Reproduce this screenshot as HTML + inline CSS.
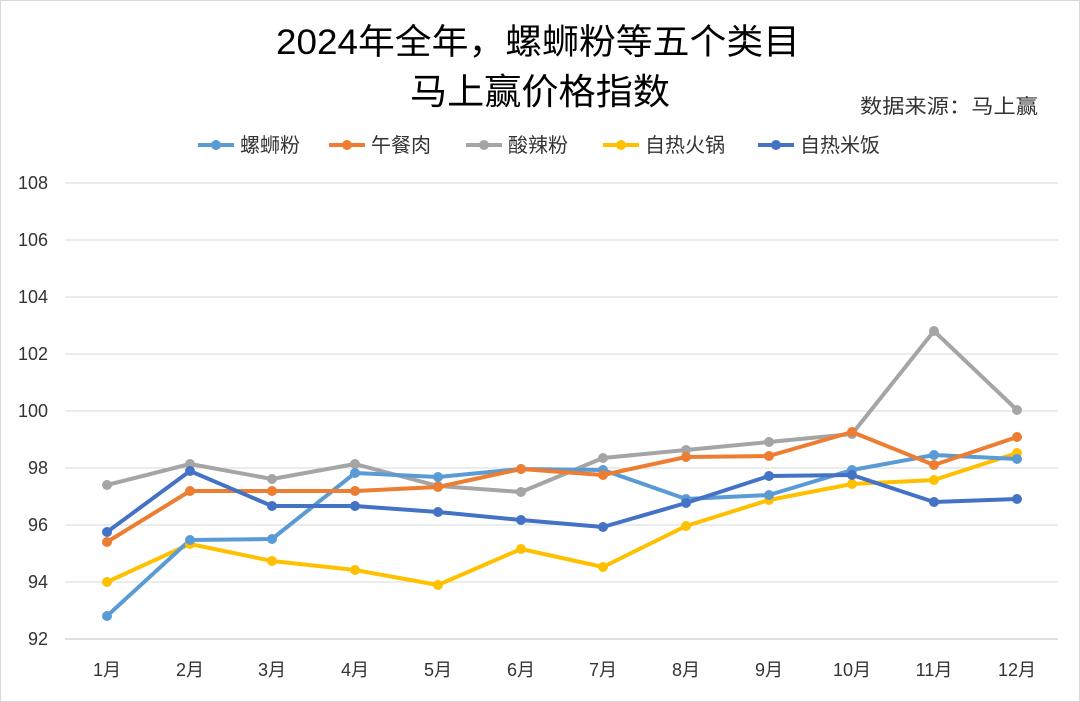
<!DOCTYPE html>
<html><head><meta charset="utf-8"><style>
html,body{margin:0;padding:0;background:#fff}
svg{display:block}
text{font-family:"Liberation Sans","Noto Sans CJK SC",sans-serif}
</style></head><body>
<svg width="1080" height="702" viewBox="0 0 1080 702" xmlns="http://www.w3.org/2000/svg">
<rect x="0.5" y="0.5" width="1079" height="701" fill="#fff" stroke="#d9d9d9"/>
<text x="276" y="54" font-size="35" fill="#000" textLength="524" lengthAdjust="spacingAndGlyphs">2024年全年，螺蛳粉等五个类目</text>
<text x="410" y="104" font-size="36" fill="#000" textLength="260" lengthAdjust="spacingAndGlyphs">马上赢价格指数</text>
<text x="1038" y="113" text-anchor="end" font-size="20" fill="#333" textLength="178" lengthAdjust="spacingAndGlyphs">数据来源：马上赢</text>
<g font-size="20" fill="#333">
<line x1="198" y1="145" x2="234" y2="145" stroke="#5B9BD5" stroke-width="4"/><circle cx="216" cy="145" r="5" fill="#5B9BD5"/><text x="240" y="152">螺蛳粉</text>
<line x1="329" y1="145" x2="365" y2="145" stroke="#ED7D31" stroke-width="4"/><circle cx="347" cy="145" r="5" fill="#ED7D31"/><text x="371" y="152">午餐肉</text>
<line x1="466" y1="145" x2="502" y2="145" stroke="#A5A5A5" stroke-width="4"/><circle cx="484" cy="145" r="5" fill="#A5A5A5"/><text x="508" y="152">酸辣粉</text>
<line x1="603" y1="145" x2="639" y2="145" stroke="#FFC000" stroke-width="4"/><circle cx="621" cy="145" r="5" fill="#FFC000"/><text x="645" y="152">自热火锅</text>
<line x1="758" y1="145" x2="794" y2="145" stroke="#4472C4" stroke-width="4"/><circle cx="776" cy="145" r="5" fill="#4472C4"/><text x="800" y="152">自热米饭</text>
</g>
<g stroke="#d9d9d9" stroke-width="1">
<line x1="65" y1="183" x2="1058" y2="183"/><line x1="65" y1="240" x2="1058" y2="240"/><line x1="65" y1="297" x2="1058" y2="297"/><line x1="65" y1="354" x2="1058" y2="354"/><line x1="65" y1="411" x2="1058" y2="411"/><line x1="65" y1="468" x2="1058" y2="468"/><line x1="65" y1="525" x2="1058" y2="525"/><line x1="65" y1="582" x2="1058" y2="582"/><line x1="65" y1="639" x2="1058" y2="639" stroke="#bfbfbf"/>
</g>
<g font-size="18" fill="#333" text-anchor="end">
<text x="48" y="189">108</text><text x="48" y="246">106</text><text x="48" y="303">104</text><text x="48" y="360">102</text><text x="48" y="417">100</text><text x="48" y="474">98</text><text x="48" y="531">96</text><text x="48" y="588">94</text><text x="48" y="645">92</text>
</g>
<g font-size="18" fill="#333" text-anchor="middle">
<text x="107" y="676">1月</text><text x="190" y="676">2月</text><text x="272" y="676">3月</text><text x="355" y="676">4月</text><text x="438" y="676">5月</text><text x="521" y="676">6月</text><text x="603" y="676">7月</text><text x="686" y="676">8月</text><text x="769" y="676">9月</text><text x="852" y="676">10月</text><text x="934" y="676">11月</text><text x="1017" y="676">12月</text>
</g>
<g fill="none" stroke-width="4" stroke-linejoin="round">
<polyline stroke="#A5A5A5" points="107,485 190,464 272,479 355,464 438,486 521,492 603,458 686,450 769,442 852,434 934,331 1017,410"/>
<polyline stroke="#FFC000" points="107,582 190,544 272,561 355,570 438,585 521,549 603,567 686,526 769,500 852,484 934,480 1017,453"/>
<polyline stroke="#5B9BD5" points="107,616 190,540 272,539 355,473 438,477 521,469 603,470 686,499 769,495 852,470 934,455 1017,459"/>
<polyline stroke="#ED7D31" points="107,542 190,491 272,491 355,491 438,487 521,469 603,475 686,457 769,456 852,432 934,465 1017,437"/>
<polyline stroke="#4472C4" points="107,532 190,471 272,506 355,506 438,512 521,520 603,527 686,503 769,476 852,475 934,502 1017,499"/>
</g>
<g fill="#A5A5A5"><circle cx="107" cy="485" r="5"/><circle cx="190" cy="464" r="5"/><circle cx="272" cy="479" r="5"/><circle cx="355" cy="464" r="5"/><circle cx="438" cy="486" r="5"/><circle cx="521" cy="492" r="5"/><circle cx="603" cy="458" r="5"/><circle cx="686" cy="450" r="5"/><circle cx="769" cy="442" r="5"/><circle cx="852" cy="434" r="5"/><circle cx="934" cy="331" r="5"/><circle cx="1017" cy="410" r="5"/></g>
<g fill="#FFC000"><circle cx="107" cy="582" r="5"/><circle cx="190" cy="544" r="5"/><circle cx="272" cy="561" r="5"/><circle cx="355" cy="570" r="5"/><circle cx="438" cy="585" r="5"/><circle cx="521" cy="549" r="5"/><circle cx="603" cy="567" r="5"/><circle cx="686" cy="526" r="5"/><circle cx="769" cy="500" r="5"/><circle cx="852" cy="484" r="5"/><circle cx="934" cy="480" r="5"/><circle cx="1017" cy="453" r="5"/></g>
<g fill="#5B9BD5"><circle cx="107" cy="616" r="5"/><circle cx="190" cy="540" r="5"/><circle cx="272" cy="539" r="5"/><circle cx="355" cy="473" r="5"/><circle cx="438" cy="477" r="5"/><circle cx="521" cy="469" r="5"/><circle cx="603" cy="470" r="5"/><circle cx="686" cy="499" r="5"/><circle cx="769" cy="495" r="5"/><circle cx="852" cy="470" r="5"/><circle cx="934" cy="455" r="5"/><circle cx="1017" cy="459" r="5"/></g>
<g fill="#ED7D31"><circle cx="107" cy="542" r="5"/><circle cx="190" cy="491" r="5"/><circle cx="272" cy="491" r="5"/><circle cx="355" cy="491" r="5"/><circle cx="438" cy="487" r="5"/><circle cx="521" cy="469" r="5"/><circle cx="603" cy="475" r="5"/><circle cx="686" cy="457" r="5"/><circle cx="769" cy="456" r="5"/><circle cx="852" cy="432" r="5"/><circle cx="934" cy="465" r="5"/><circle cx="1017" cy="437" r="5"/></g>
<g fill="#4472C4"><circle cx="107" cy="532" r="5"/><circle cx="190" cy="471" r="5"/><circle cx="272" cy="506" r="5"/><circle cx="355" cy="506" r="5"/><circle cx="438" cy="512" r="5"/><circle cx="521" cy="520" r="5"/><circle cx="603" cy="527" r="5"/><circle cx="686" cy="503" r="5"/><circle cx="769" cy="476" r="5"/><circle cx="852" cy="475" r="5"/><circle cx="934" cy="502" r="5"/><circle cx="1017" cy="499" r="5"/></g>
</svg>
</body></html>
